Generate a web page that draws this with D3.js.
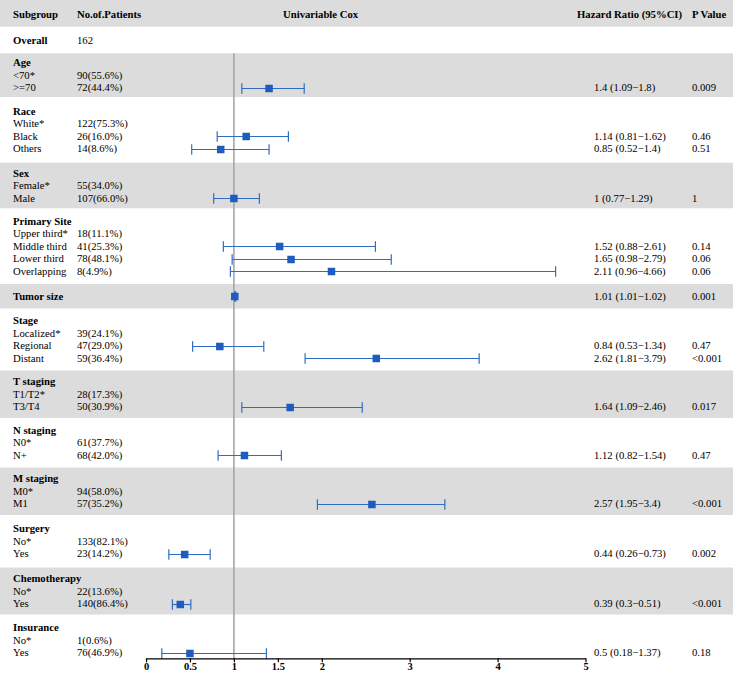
<!DOCTYPE html>
<html>
<head>
<meta charset="utf-8">
<script src="https://cdn.jsdelivr.net/npm/d3@7"></script>
<style>
  html, body { margin: 0; padding: 0; background: #fff; }
  svg { display: block; }
  text { font-family: "Liberation Serif", "Times New Roman", serif; fill: #000; }
</style>
</head>
<body>
<div id="chart"></div>
<script>
// ---------------- DATA ----------------
const columnHeaders = ["Subgroup", "No.of.Patients", "Univariable Cox", "Hazard Ratio (95%CI)", "P Value"];

const groupNames = ["Overall", "Age", "Race", "Sex", "Primary Site", "Tumor size", "Stage",
  "T staging", "N staging", "M staging", "Surgery", "Chemotherapy", "Insurance"];
const groupPatients = ["162", "", "", "", "", "", "", "", "", "", "", "", ""];
const groupHR = [null, null, null, null, null, 1.01, null, null, null, null, null, null, null];
const groupLower = [null, null, null, null, null, 1.01, null, null, null, null, null, null, null];
const groupUpper = [null, null, null, null, null, 1.02, null, null, null, null, null, null, null];
const groupP = ["", "", "", "", "", "0.001", "", "", "", "", "", "", ""];

const levelGroup = [1, 1, 2, 2, 2, 3, 3, 4, 4, 4, 4, 6, 6, 6, 7, 7, 8, 8, 9, 9, 10, 10, 11, 11, 12, 12];
const levelNames = ["<70*", ">=70", "White*", "Black", "Others", "Female*", "Male",
  "Upper third*", "Middle third", "Lower third", "Overlapping",
  "Localized*", "Regional", "Distant", "T1/T2*", "T3/T4", "N0*", "N+", "M0*", "M1",
  "No*", "Yes", "No*", "Yes", "No*", "Yes"];
const levelPatients = ["90(55.6%)", "72(44.4%)", "122(75.3%)", "26(16.0%)", "14(8.6%)",
  "55(34.0%)", "107(66.0%)", "18(11.1%)", "41(25.3%)", "78(48.1%)", "8(4.9%)",
  "39(24.1%)", "47(29.0%)", "59(36.4%)", "28(17.3%)", "50(30.9%)", "61(37.7%)", "68(42.0%)",
  "94(58.0%)", "57(35.2%)", "133(82.1%)", "23(14.2%)", "22(13.6%)", "140(86.4%)", "1(0.6%)", "76(46.9%)"];
const levelHR = [null, 1.4, null, 1.14, 0.85, null, 1, null, 1.52, 1.65, 2.11, null, 0.84, 2.62,
  null, 1.64, null, 1.12, null, 2.57, null, 0.44, null, 0.39, null, 0.5];
const levelLower = [null, 1.09, null, 0.81, 0.52, null, 0.77, null, 0.88, 0.98, 0.96, null, 0.53, 1.81,
  null, 1.09, null, 0.82, null, 1.95, null, 0.26, null, 0.3, null, 0.18];
const levelUpper = [null, 1.8, null, 1.62, 1.4, null, 1.29, null, 2.61, 2.79, 4.66, null, 1.34, 3.79,
  null, 2.46, null, 1.54, null, 3.4, null, 0.73, null, 0.51, null, 1.37];
const levelP = ["", "0.009", "", "0.46", "0.51", "", "1", "", "0.14", "0.06", "0.06", "", "0.47", "<0.001",
  "", "0.017", "", "0.47", "", "<0.001", "", "0.002", "", "<0.001", "", "0.18"];

const axisTicks = [0, 0.5, 1, 1.5, 2, 3, 4, 5];
const axisDomain = [0, 5];
const referenceValue = 1;

// ---------------- LAYOUT ----------------
const W = 733, H = 674;
const rowEdges = [0, 26.7, 53.3, 97, 162.7, 208.3, 284, 308.5, 370.5, 418, 467.5, 515, 567.5, 614.5, 665.5];
const lineH = 12.5;
const fontSize = 10.7;
const colX = { sub: 13, pat: 77, cox: 283, hrHead: 577, hr: 594, p: 692 };
const axisY = 658.3;
const blue = "#1f5cbd", lineBlue = "#2f6cc6", band = "#dcdcdc";

const x = d3.scaleLinear().domain(axisDomain).range([146, 585.5]);

// build lines
const lines = [];
groupNames.forEach((g, gi) => {
  const lv = [];
  levelGroup.forEach((lg, li) => { if (lg === gi) lv.push(li); });
  const groupLines = [{ label: g, bold: true, pat: groupPatients[gi], hr: groupHR[gi], lo: groupLower[gi], hi: groupUpper[gi], p: groupP[gi] }];
  lv.forEach(li => groupLines.push({ label: levelNames[li], bold: false, pat: levelPatients[li], hr: levelHR[li], lo: levelLower[li], hi: levelUpper[li], p: levelP[li] }));
  const top = rowEdges[gi + 1], bot = rowEdges[gi + 2];
  const c = (top + bot) / 2;
  const n = groupLines.length;
  groupLines.forEach((l, k) => {
    l.y = c + (k - (n - 1) / 2) * lineH;
    l.group = gi;
    lines.push(l);
  });
});

const svg = d3.select("#chart").append("svg").attr("width", W).attr("height", H);

// bands
const bandIdx = d3.range(rowEdges.length - 1);
svg.append("g").selectAll("rect")
  .data(bandIdx.filter(i => i % 2 === 0 && i < rowEdges.length - 1))
  .join("rect")
  .attr("x", 0).attr("width", W)
  .attr("y", i => rowEdges[i]).attr("height", i => rowEdges[i + 1] - rowEdges[i])
  .attr("fill", band);

// header
const headerY = (rowEdges[0] + rowEdges[1]) / 2 + 1;
const hdrX = [colX.sub, colX.pat, colX.cox, colX.hrHead, colX.p];
svg.append("g").selectAll("text").data(columnHeaders).join("text")
  .attr("x", (d, i) => hdrX[i]).attr("y", headerY).attr("dy", "0.35em")
  .attr("font-size", fontSize).attr("font-weight", "bold").text(d => d);

// table text
const tg = svg.append("g");
lines.forEach(l => {
  tg.append("text").attr("x", colX.sub).attr("y", l.y).attr("dy", "0.35em")
    .attr("font-size", fontSize).attr("font-weight", l.bold ? "bold" : "normal").text(l.label);
  if (l.pat) tg.append("text").attr("x", colX.pat).attr("y", l.y).attr("dy", "0.35em")
    .attr("font-size", fontSize).text(l.pat);
  if (l.hr != null) {
    tg.append("text").attr("x", colX.hr).attr("y", l.y).attr("dy", "0.35em")
      .attr("font-size", fontSize).text(`${l.hr} (${l.lo}\u2212${l.hi})`);
  }
  if (l.p) tg.append("text").attr("x", colX.p).attr("y", l.y).attr("dy", "0.35em")
    .attr("font-size", fontSize).text(l.p);
});

// reference line
svg.append("line")
  .attr("x1", x(referenceValue)).attr("x2", x(referenceValue))
  .attr("y1", rowEdges[2]).attr("y2", axisY)
  .attr("stroke", "#a6a6a6").attr("stroke-width", 1.6);

// CIs
const est = lines.filter(l => l.hr != null);
const cg = svg.append("g");
const cap = 5.3, box = 7.5;
est.forEach(l => {
  const yy = Math.round(l.y) + 0.5;
  cg.append("line").attr("x1", x(l.lo)).attr("x2", x(l.hi)).attr("y1", yy).attr("y2", yy)
    .attr("stroke", lineBlue).attr("stroke-width", 1.2);
  [l.lo, l.hi].forEach(v => cg.append("line").attr("x1", x(v)).attr("x2", x(v))
    .attr("y1", yy - cap).attr("y2", yy + cap).attr("stroke", lineBlue).attr("stroke-width", 1.2));
  cg.append("rect").attr("x", x(l.hr) - box / 2).attr("y", yy - box / 2)
    .attr("width", box).attr("height", box).attr("fill", blue);
});

// axis
const axis = d3.axisBottom(x).tickValues(axisTicks).tickFormat(d => String(d)).tickSize(4).tickSizeOuter(0);
const ag = svg.append("g").attr("transform", `translate(0,${axisY})`).call(axis);
ag.select(".domain").attr("stroke", "#000").attr("stroke-width", 1.2);
ag.selectAll(".tick line").attr("stroke", "#000").attr("stroke-width", 1.2);
ag.selectAll(".tick text").attr("font-family", "'Liberation Serif', 'Times New Roman', serif")
  .attr("font-size", 10.5).attr("font-weight", "bold").attr("fill", "#000").attr("dy", "0.55em").attr("y", 6);
</script>
</body>
</html>
